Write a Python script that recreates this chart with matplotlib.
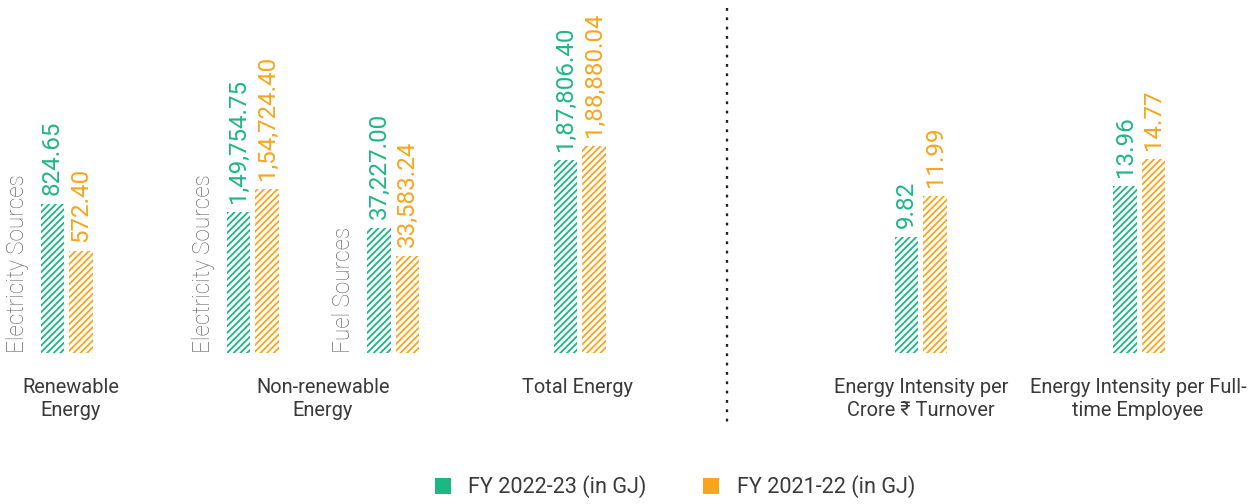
import matplotlib
matplotlib.use("Agg")
import matplotlib.pyplot as plt
from matplotlib.patches import Patch
from matplotlib.lines import Line2D
from matplotlib import transforms

# ---- data -------------------------------------------------------------
series = ["FY 2022-23 (in GJ)", "FY 2021-22 (in GJ)"]
colors = ["#1DB784", "#F8A51C"]

group_titles = ["Renewable\nEnergy", "Non-renewable\nEnergy", "Total Energy",
                "Energy Intensity per\nCrore ₹ Turnover",
                "Energy Intensity per Full-\ntime Employee"]

pair_sources = ["Electricity Sources", "Electricity Sources", "Fuel Sources", "", "", ""]
fy2023 = [824.65, 149754.75, 37227.00, 187806.40, 9.82, 13.96]
fy2022 = [572.40, 154724.40, 33583.24, 188880.04, 11.99, 14.77]

# ---- layout (pixels on a 1254 x 504 canvas) ---------------------------
W, H, DPI = 1254, 504, 120
pair_x = [52.5, 238.5, 379, 565.5, 906.5, 1125]      # centre of first bar
pair_ylim = [(24.9, 1919.7), (119289, 195564), (20960, 66899),
             (173005.6, 200076.6), (3.680, 22.363), (8.950, 19.540)]
title_x = [71, 323, 577, 921, 1138]
title_top = 378
base_y = 353
unit = 28.5          # px between bar centres
bar_w = 0.83

plt.rcParams["hatch.linewidth"] = 1.1
plt.rcParams["font.family"] = ["Roboto", "DejaVu Sans"]

fig = plt.figure(figsize=(W / DPI, H / DPI), dpi=DPI)


def fx(x):
    return x / W


def fy(y):
    return 1 - y / H


def indian(v):
    whole, frac = f"{v:.2f}".split(".")
    if len(whole) > 3:
        head, tail = whole[:-3], whole[-3:]
        groups = []
        while len(head) > 2:
            groups.insert(0, head[-2:])
            head = head[:-2]
        if head:
            groups.insert(0, head)
        whole = ",".join(groups + [tail])
    return f"{whole}.{frac}"


for i, (a, b) in enumerate(zip(fy2023, fy2022)):
    left = pair_x[i] - unit
    ax = fig.add_axes([fx(left), fy(base_y), 3 * unit / W, base_y / H])
    ax.set_xlim(-1, 2)
    ax.set_ylim(*pair_ylim[i])
    ax.axis("off")
    for j, v in enumerate((a, b)):
        ax.bar(j, v, width=bar_w, color="none", edgecolor=colors[j],
               hatch="//////", linewidth=0)
        ax.annotate(indian(v), (j, v), xytext=(0, 5.5), textcoords="offset points",
                    rotation=90, ha="center", va="bottom", color=colors[j],
                    fontsize=14.5, fontweight="normal", annotation_clip=False)
    if pair_sources[i]:
        tr = transforms.blended_transform_factory(ax.transData, ax.transAxes)
        ax.text(-1.23, 0, pair_sources[i], transform=tr, rotation=90,
                ha="center", va="bottom", color="#6b6b6b", fontsize=13.5,
                fontweight="light", clip_on=False)

for t, x in zip(group_titles, title_x):
    fig.text(fx(x), fy(title_top), t, ha="center", va="top", color="#3a3a3a",
             fontsize=12, linespacing=1.25, multialignment="center")

# dotted divider
fig.add_artist(Line2D([fx(727.5), fx(727.5)], [fy(8), fy(422)],
                      transform=fig.transFigure, color="#222222", lw=1.4,
                      linestyle=(0, (1.2, 2.8)), dash_capstyle="butt"))

handles = [Patch(facecolor=c, edgecolor="none") for c in colors]
fig.legend(handles, series, loc="center", bbox_to_anchor=(fx(675), fy(487)),
           ncol=2, frameon=False, fontsize=13, handlelength=0.75, handleheight=0.75,
           handletextpad=0.8, columnspacing=2.6, borderpad=0, labelcolor="#3a3a3a")

fig.savefig("out.png", dpi=DPI)
